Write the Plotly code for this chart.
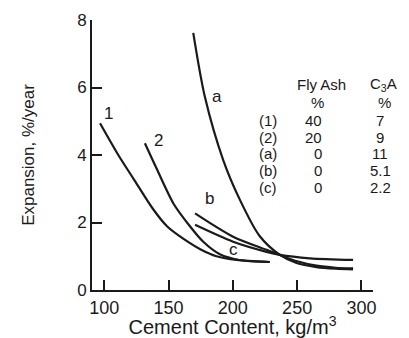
import plotly.graph_objects as go

# Curve data (cement content kg/m3, expansion %/year)
c1_x = [96.7, 110.9, 123.0, 137.9, 149.0, 161.4, 175.0, 187.3, 202.9, 228.7]
c1_y = [4.94, 4.00, 3.28, 2.40, 1.88, 1.52, 1.20, 1.00, 0.89, 0.83]
c2_x = [131.6, 140.7, 154.0, 166.0, 177.0, 189.9, 205.0, 228.7]
c2_y = [4.35, 3.60, 2.55, 1.92, 1.43, 1.06, 0.89, 0.83]
ca_x = [169.2, 178.2, 192.5, 205.5, 220.8, 236.6, 249.5, 265.0, 280.0, 293.5]
ca_y = [7.62, 5.73, 3.85, 2.67, 1.60, 1.04, 0.80, 0.68, 0.63, 0.61]
cb_x = [170.6, 200.2, 226.2, 236.6, 250.0, 265.0, 280.0, 293.5]
cb_y = [2.27, 1.58, 1.19, 1.04, 0.85, 0.72, 0.66, 0.64]
cc_x = [170.6, 200.2, 226.2, 236.6, 259.9, 293.5]
cc_y = [1.93, 1.43, 1.13, 1.04, 0.94, 0.89]

curve_labels = ["1", "2", "a", "b", "c"]
label_x = [103.1, 141.8, 187.3, 181.6, 200.2]
label_y = [5.24, 4.44, 5.73, 2.72, 1.19]

# Table
header_fly = "Fly Ash"
header_c3a = "C<sub>3</sub>A"
row_names = ["(1)", "(2)", "(a)", "(b)", "(c)"]
fly_ash = ["40", "20", "0", "0", "0"]
c3a = ["7", "9", "11", "5.1", "2.2"]

x_ticks = [100, 150, 200, 250, 300]
y_ticks = [0, 2, 4, 6, 8]

FONT = "Liberation Sans, Arial, sans-serif"
INK = "#1a1a1a"

# The page body has an 8px margin; target plot area in page pixels: x 92..373, y 20..290
OFF = 8
W, H = 409 - OFF, 338 - OFF
L, T = 92 - OFF, 20 - OFF
R, B = 36, 48
PW, PH = W - L - R, H - T - B
def px(x):
    return (x - 92) / PW
def py(y):
    return (290 - y) / PH

fig = go.Figure()
for xs, ys in [(c1_x, c1_y), (c2_x, c2_y), (ca_x, ca_y), (cb_x, cb_y), (cc_x, cc_y)]:
    fig.add_trace(go.Scatter(x=xs, y=ys, mode="lines",
                             line=dict(color=INK, width=2.2, shape="spline", smoothing=0.8),
                             showlegend=False, hoverinfo="skip"))

ann = []
for t, x, y in zip(curve_labels, label_x, label_y):
    ann.append(dict(x=x, y=y, xref="x", yref="y", text=t, showarrow=False,
                    xanchor="center", yanchor="middle",
                    font=dict(family=FONT, size=17, color=INK)))

tf = dict(family=FONT, size=15, color=INK)
def cell(x, y, text, xanchor="center"):
    return dict(x=px(x), y=py(y), xref="paper", yref="paper", text=text, showarrow=False,
                xanchor=xanchor, yanchor="middle", borderpad=0, font=tf)

ann.append(cell(321, 84, header_fly))
ann.append(cell(383, 84, header_c3a))
ann.append(cell(317, 102, "%"))
ann.append(cell(384, 102, "%"))
row_px = [120, 137, 153, 170, 187]
for n, f, c, ry in zip(row_names, fly_ash, c3a, row_px):
    ann.append(cell(268, ry, n))
    ann.append(cell(323, ry, f, xanchor="right"))
    ann.append(cell(380, ry, c))

fig.update_layout(
    width=W, height=H,
    margin=dict(l=L, r=R, t=T, b=B, autoexpand=False),
    paper_bgcolor="white", plot_bgcolor="white",
    annotations=ann,
    font=dict(family=FONT, color=INK),
    xaxis=dict(range=[90.45, 309], tickvals=x_ticks, ticks="inside", ticklen=10, tickwidth=1.6,
               tickcolor=INK, showline=True, linecolor=INK, linewidth=1.8, showgrid=False, zeroline=False,
               automargin=False, tickfont=dict(family=FONT, size=18, color=INK),
               title=dict(text="Cement Content, kg/m<sup>3</sup>", font=dict(family=FONT, size=20, color=INK),
                          standoff=2)),
    yaxis=dict(range=[0, 8], tickvals=y_ticks, ticks="inside", ticklen=10, tickwidth=1.6,
               tickcolor=INK, showline=True, linecolor=INK, linewidth=1.8, showgrid=False, zeroline=False,
               automargin=False, tickfont=dict(family=FONT, size=17, color=INK),
               title=dict(text="Expansion, %/year", font=dict(family=FONT, size=17, color=INK), standoff=38)),
)

fig.write_html("out.html")
